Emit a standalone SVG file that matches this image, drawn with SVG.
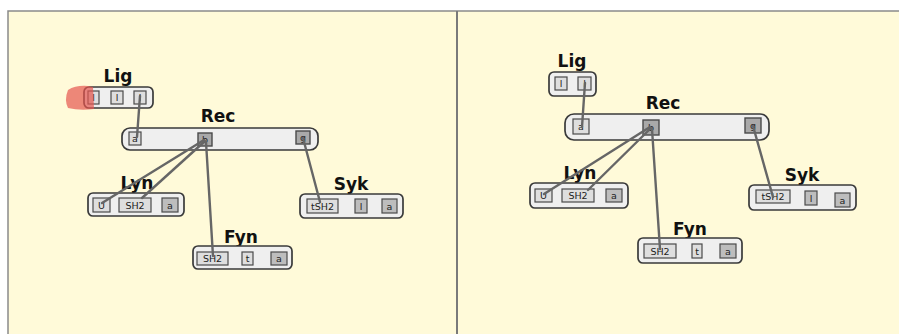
<svg xmlns="http://www.w3.org/2000/svg" width="899" height="334" viewBox="0 0 899 334">
<defs>
<style>
.bg{fill:#fffad9}
.frame{fill:none;stroke:#8a8a8a;stroke-width:1.5}
.node{fill:#efefef;stroke:#3a3a3a;stroke-width:1.7}
.s1{fill:#dedede;stroke:#4a4a4a;stroke-width:1.2}
.s2{fill:#bdbdbd;stroke:#4a4a4a;stroke-width:1.2}
.s3{fill:#a9a9a9;stroke:#4a4a4a;stroke-width:1.4}
.lbl{font-family:"DejaVu Sans",sans-serif;font-weight:bold;font-size:17px;fill:#111;text-anchor:middle}
.st{font-family:"DejaVu Sans",sans-serif;font-size:9.5px;fill:#222;text-anchor:middle}
.edge{stroke:#666666;stroke-width:2.4;fill:none;stroke-linecap:round}
</style>
</defs>
<rect x="0" y="0" width="899" height="334" fill="#ffffff"/>
<rect class="bg" x="8" y="11" width="891" height="323"/>
<path class="frame" d="M8 334 V11 H899"/>
<line x1="457" y1="11" x2="457" y2="334" stroke="#7a7a7a" stroke-width="2"/>

<!-- LEFT PANEL -->
<g id="L-Lig">
<text class="lbl" x="118" y="82">Lig</text>
<rect class="node" x="84" y="87" width="69" height="21" rx="5"/>
<rect class="s1" x="88" y="91" width="11" height="13"/><text class="st" x="93.5" y="101">l</text>
<rect class="s1" x="111" y="91" width="12" height="13"/><text class="st" x="117" y="101">l</text>
<rect class="s1" x="134" y="91" width="12" height="13"/><text class="st" x="140" y="101">l</text>
</g>
<g id="L-Rec">
<text class="lbl" x="218" y="122">Rec</text>
<rect class="node" x="122" y="128" width="196" height="22" rx="8"/>
<rect class="s1" x="129" y="132" width="12" height="13"/><text class="st" x="135" y="142">a</text>
<rect class="s3" x="198" y="133" width="14" height="13"/><text class="st" x="205" y="143">b</text>
<rect class="s3" x="296" y="131" width="14" height="13"/><text class="st" x="303" y="141">g</text>
</g>
<g id="L-Lyn">
<text class="lbl" x="137" y="189">Lyn</text>
<rect class="node" x="88" y="193" width="96" height="23" rx="5"/>
<rect class="s1" x="93" y="198" width="17" height="14"/><text class="st" x="101.5" y="208.5">U</text>
<rect class="s1" x="119" y="198" width="32" height="14"/><text class="st" x="135" y="208.5">SH2</text>
<rect class="s2" x="162" y="198" width="16" height="14"/><text class="st" x="170" y="208.5">a</text>
</g>
<g id="L-Syk">
<text class="lbl" x="351" y="190">Syk</text>
<rect class="node" x="300" y="194" width="103" height="24" rx="5"/>
<rect class="s1" x="307" y="199" width="31" height="14"/><text class="st" x="322.5" y="209.5">tSH2</text>
<rect class="s2" x="355" y="199" width="12" height="14"/><text class="st" x="361" y="209.5">l</text>
<rect class="s2" x="382" y="199" width="15" height="14"/><text class="st" x="389.5" y="209.5">a</text>
</g>
<g id="L-Fyn">
<text class="lbl" x="241" y="243">Fyn</text>
<rect class="node" x="193" y="246" width="99" height="23" rx="5"/>
<rect class="s1" x="197" y="252" width="31" height="13"/><text class="st" x="212.5" y="262">SH2</text>
<rect class="s1" x="242" y="252" width="11" height="13"/><text class="st" x="247.5" y="262">t</text>
<rect class="s2" x="271" y="252" width="16" height="13"/><text class="st" x="279" y="262">a</text>
</g>

<!-- RIGHT PANEL -->
<g id="R-Lig">
<text class="lbl" x="572" y="67">Lig</text>
<rect class="node" x="549" y="72" width="47" height="24" rx="5"/>
<rect class="s1" x="555" y="77" width="12" height="13"/><text class="st" x="561" y="87">l</text>
<rect class="s1" x="578" y="77" width="13" height="13"/><text class="st" x="584.5" y="87">l</text>
</g>
<g id="R-Rec">
<text class="lbl" x="663" y="109">Rec</text>
<rect class="node" x="565" y="114" width="204" height="26" rx="9"/>
<rect class="s1" x="573" y="119" width="16" height="15"/><text class="st" x="581" y="130">a</text>
<rect class="s3" x="643" y="120" width="16" height="15"/><text class="st" x="651" y="131">b</text>
<rect class="s3" x="745" y="118" width="16" height="15"/><text class="st" x="753" y="129">g</text>
</g>
<g id="R-Lyn">
<text class="lbl" x="580" y="179">Lyn</text>
<rect class="node" x="530" y="183" width="98" height="25" rx="5"/>
<rect class="s1" x="535" y="189" width="17" height="13"/><text class="st" x="543.5" y="199">U</text>
<rect class="s1" x="562" y="189" width="32" height="13"/><text class="st" x="578" y="199">SH2</text>
<rect class="s2" x="606" y="189" width="16" height="13"/><text class="st" x="614" y="199">a</text>
</g>
<g id="R-Syk">
<text class="lbl" x="802" y="181">Syk</text>
<rect class="node" x="749" y="185" width="107" height="25" rx="5"/>
<rect class="s1" x="756" y="190" width="34" height="13"/><text class="st" x="773" y="200">tSH2</text>
<rect class="s2" x="805" y="191" width="12" height="14"/><text class="st" x="811" y="201.5">l</text>
<rect class="s2" x="835" y="193" width="15" height="14"/><text class="st" x="842.5" y="203.5">a</text>
</g>
<g id="R-Fyn">
<text class="lbl" x="690" y="235">Fyn</text>
<rect class="node" x="638" y="238" width="104" height="25" rx="5"/>
<rect class="s1" x="644" y="244" width="32" height="14"/><text class="st" x="660" y="254.5">SH2</text>
<rect class="s1" x="692" y="244" width="10" height="14"/><text class="st" x="697" y="254.5">t</text>
<rect class="s2" x="720" y="244" width="16" height="14"/><text class="st" x="728" y="254.5">a</text>
</g>

<g id="connectors">
<line class="edge" x1="140" y1="96" x2="137" y2="137"/>
<line class="edge" x1="204" y1="140" x2="102" y2="203"/>
<line class="edge" x1="205" y1="141" x2="142" y2="198"/>
<line class="edge" x1="206" y1="142" x2="213" y2="256"/>
<line class="edge" x1="303" y1="138" x2="320" y2="202"/>
<line class="edge" x1="585" y1="83" x2="582" y2="127"/>
<line class="edge" x1="650" y1="127" x2="544" y2="194"/>
<line class="edge" x1="651" y1="128" x2="588" y2="190"/>
<line class="edge" x1="652" y1="129" x2="660" y2="249"/>
<line class="edge" x1="753" y1="126" x2="773" y2="197"/>
</g>
<path d="M68 90 Q76 85 88 86 L93 87 L94 109 Q80 111 68 108 Q64 100 68 90 Z" fill="#e5554f" opacity="0.7"/>
</svg>
